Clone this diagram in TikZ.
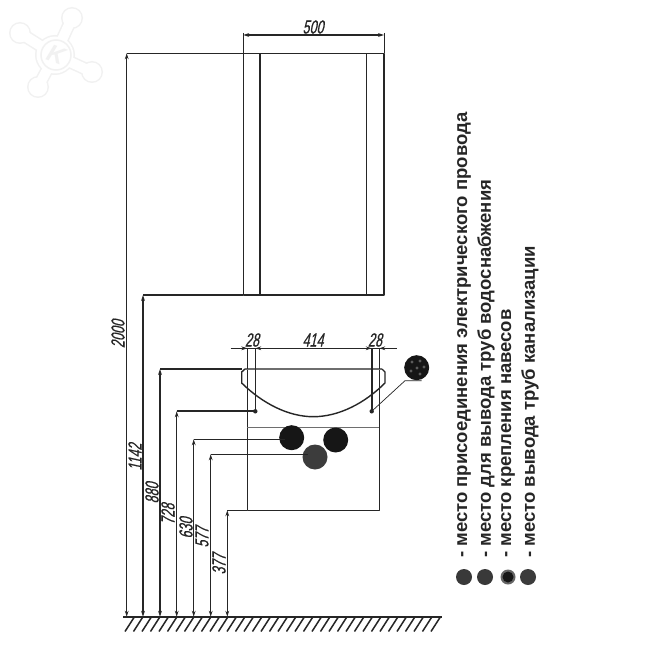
\documentclass[tikz,border=0pt]{standalone}
\usepackage{xcolor}
\usepackage{fontspec}
\usepackage{tikz}
\usetikzlibrary{calc,arrows.meta}
\setmainfont{Liberation Sans}
\newfontfamily\dimfont[FakeStretch=0.66,FakeSlant=0.22,FakeBold=0.6]{Liberation Sans}
\definecolor{ink}{HTML}{262626}
\definecolor{soft}{HTML}{6E6E6E}
\definecolor{hole}{HTML}{161616}
\definecolor{drain}{HTML}{3C3C3C}
\definecolor{spot}{HTML}{5C5C5C}
\definecolor{wmark}{HTML}{F1F1F1}
\tikzset{
  base/.style={draw=ink, line width=1.4pt, line join=round},
  fine/.style={draw=ink, line width=1pt},
  pale/.style={draw=soft, line width=1.2pt},
  dimen/.style={draw=ink, line width=1.3pt, {Stealth[length=6pt,width=3.8pt]}-{Stealth[length=6pt,width=3.8pt]}},
  tick/.style={draw=ink, line width=0.8pt, -{Stealth[length=6pt,width=3.8pt]}},
  hatch/.style={draw=ink, line width=1.5pt},
  dimlab/.style={text=ink, font=\dimfont\fontsize{19}{19}\selectfont, inner sep=0pt},
  leglab/.style={text=black!85, font=\bfseries\fontsize{18.5}{18}\selectfont, rotate=90, anchor=west, inner sep=0pt},
  logo/.style={draw=wmark, line width=1.5pt}
}
\begin{document}
\begin{tikzpicture}[x=1pt,y=-1pt]
  \useasboundingbox[fill=white] (0,0) rectangle (650,650);
  % ground and levels
  \coordinate (gl) at (123,616.7);
  \coordinate (gr) at (441.7,616.7);
  \coordinate (top) at (243.3,53.3);
  \coordinate (cab) at (243.3,295);
  \coordinate (bowl) at (241.7,369);
  \coordinate (hookl) at (255.3,411.3);
  \coordinate (hookr) at (371.7,411.3);
  \coordinate (vanl) at (247.3,510.3);
  \coordinate (vanr) at (379.3,510.3);

  % watermark
  \fill[wmark] (72,18) circle (11) (55,55) circle (20) (20,33) circle (11) (92,72) circle (11) (38,87) circle (11);
  \draw[wmark,line width=13pt,line cap=round] (55,55)--(72,18) (55,55)--(20,33) (55,55)--(92,72) (55,55)--(38,87);
  \fill[white] (72,18) circle (9.5) (20,33) circle (9.5) (92,72) circle (9.5) (38,87) circle (9.5) (55,55) circle (18.5);
  \draw[white,line width=10pt,line cap=round] (55,55)--(72,18) (55,55)--(20,33) (55,55)--(92,72) (55,55)--(38,87);
  \draw[logo] (56,55) circle (15);
  \node[text=wmark,font=\bfseries\itshape\fontsize{24}{24}\selectfont,rotate=-20,inner sep=0pt] (logok) at (56,55) {K};

  % mirror cabinet
  \draw[base] (top) rectangle (384,295);
  \draw[base] (260,53.3)--(260,295);
  \draw[base] (366.7,53.3)--(366.7,295);
  \draw[dimen] (243.3,35)--(384,35);
  \draw[fine] (243.3,33)--(243.3,53.3);
  \draw[fine] (384,33)--(384,53.3);
  \node[dimlab] (w500) at (313,27) {500};

  % vanity
  \draw[base] (247.3,369)--(vanl)--(vanr)--(379.3,369);
  \draw[pale] (247.3,427.7)--(379.3,427.7);
  \draw[pale] (245,369)--(382,369);
  \draw[base] (245,369) -- (241.7,372) -- (241.7,383)
    .. controls (262,403) and (288,416.7) .. (313.3,416.7)
    .. controls (339,416.7) and (365,403) .. (385,383) -- (385,372) -- (382,369);
  \draw[fine] (247.3,348.3)--(247.3,369);
  \draw[fine] (379.3,348.3)--(379.3,369);
  \draw[base] (255.3,348.3)--(hookl);
  \draw[base,line width=1.7pt] (371.7,348.3)--(hookr);
  \fill[ink] (hookl) circle (2.2);
  \fill[ink] (hookr) circle (2.2);
  \fill[hole] (291.7,437.7) circle (12.5);
  \fill[hole] (335.7,440) circle (12.5);
  \fill[drain] (315,457) circle (12.5);

  % top dimension of the bowl
  \draw[fine] (230.7,348.3)--(396.7,348.3);
  \draw[tick] (238,348.3)--(247.3,348.3);
  \draw[tick] (264,348.3)--(255.3,348.3);
  \draw[tick] (363,348.3)--(371.7,348.3);
  \draw[tick] (388,348.3)--(379.3,348.3);
  \node[dimlab] (w28a) at (252,340) {28};
  \node[dimlab] (w414) at (313,340) {414};
  \node[dimlab] (w28b) at (375,340) {28};

  % hook leader
  \coordinate (lead) at (405,380.7);
  \draw[fine,line width=0.7pt] (hookr)--(lead)--(421.7,380.7);
  \fill[hole] (416.7,367.7) circle (12.5);
  \foreach \sx/\sy in {412/362,420/361,424/367,417/368,411/371,420/374}
    \fill[spot] (\sx,\sy) circle (1.7);

  % height dimensions
  \draw[dimen] (126.7,53.3)--(126.7,616.7);
  \draw[dimen] (143,295)--(143,616.7);
  \draw[dimen] (160,369)--(160,616.7);
  \draw[dimen] (176.7,411.3)--(176.7,616.7);
  \draw[dimen] (193.7,439.3)--(193.7,616.7);
  \draw[dimen] (210.7,454.3)--(210.7,616.7);
  \draw[dimen] (227.3,510.3)--(227.3,616.7);
  \draw[fine] (126.7,53.3)--(top);
  \draw[base] (143,295)--(cab);
  \draw[base] (160,369)--(bowl);
  \draw[base,line width=1.7pt] (176.7,411.3)--(hookl);
  \draw[base] (193.7,439.3)--(285,439.3);
  \draw[base] (210.7,454.3)--(308,454.3);
  \draw[base] (227.3,510.3)--(vanl);
  \node[dimlab,rotate=90] (h2000) at (118,334) {2000};
  \node[dimlab,rotate=90] (h1142) at (135,457) {1142};
  \node[dimlab,rotate=90] (h880) at (152,493) {880};
  \node[dimlab,rotate=90] (h728) at (168,514) {728};
  \node[dimlab,rotate=90] (h630) at (186,528) {630};
  \node[dimlab,rotate=90] (h577) at (202,537) {577};
  \node[dimlab,rotate=90] (h377) at (219,564) {377};

  % ground
  \draw[hatch,line width=1.8pt] (gl)--(gr);
  \foreach \hx in {0,...,36}
    \draw[hatch] ({134+8.5*\hx},617.5)--({125+8.5*\hx},631.5);

  % legend
  \node[leglab] (leg1) at (464,558) {- место присоединения электрического провода};
  \node[leglab] (leg2) at (486,558) {- место для вывода труб водоснабжения};
  \node[leglab] (leg3) at (508,558) {- место крепления навесов};
  \node[leglab] (leg4) at (530,558) {- место вывода труб канализации};
  \fill[hole!85!white] (464,577) circle (8);
  \fill[hole!85!white] (485,577) circle (8);
  \fill[black!60] (508,577) circle (7.5);
  \fill[hole] (508,577) circle (5.5);
  \fill[drain] (528,577) circle (8);
\end{tikzpicture}
\end{document}
